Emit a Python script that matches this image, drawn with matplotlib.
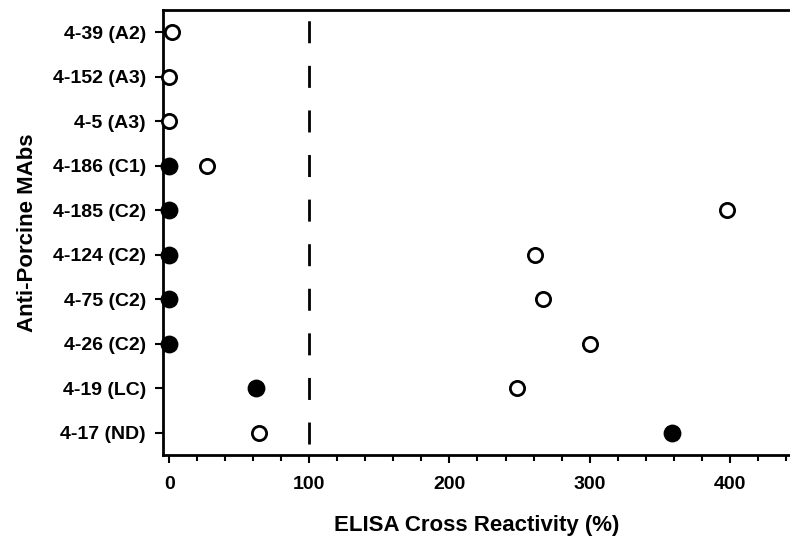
import numpy as np
import matplotlib.pyplot as plt
from matplotlib.ticker import MultipleLocator

plt.rcParams['font.family'] = ['Liberation Sans', 'DejaVu Sans']
plt.rcParams['font.weight'] = 'bold'

mabs = ['4-39 (A2)', '4-152 (A3)', '4-5 (A3)', '4-186 (C1)', '4-185 (C2)',
        '4-124 (C2)', '4-75 (C2)', '4-26 (C2)', '4-19 (LC)', '4-17 (ND)']
# filled circles (None = no point)
filled = [None, None, None, 0, 0, 0, 0, 0, 62, 359]
# open circles
open_pts = [2, 0, 0, 27, 398, 261, 267, 300, 248, 64]
cutoff = 100

fig = plt.figure(figsize=(7.9, 5.38), dpi=100)
ax = fig.add_axes([0.206, 0.154, 0.794, 0.827])

ypos = np.arange(len(mabs))
fy = [y for y, v in zip(ypos, filled) if v is not None]
fx = [v for v in filled if v is not None]

# long dashes centred on each row
ax.axvline(cutoff, color='black', lw=2, linestyle=(12.1, (7.92, 8.13)),
           dash_capstyle='butt', zorder=1)
ax.scatter(fx, fy, s=140, color='black', zorder=3, clip_on=False)
ax.scatter(open_pts, ypos, s=105, facecolor='white', edgecolor='black',
           linewidth=2, zorder=4, clip_on=False)

ax.set_ylim(len(mabs) - 0.5, -0.5)
ax.set_xlim(-4.6, 443)
ax.set_yticks(ypos)
ax.set_yticklabels(mabs, fontsize=14, fontweight='bold')
ax.set_xticks([0, 100, 200, 300, 400])
ax.xaxis.set_minor_locator(MultipleLocator(20))
ax.tick_params(axis='x', labelsize=14, width=1.5, length=6, pad=9)
ax.tick_params(axis='x', which='minor', width=1.5, length=4)
ax.tick_params(axis='y', width=1.5, length=6, pad=6)
for lbl in ax.get_xticklabels():
    lbl.set_fontweight('bold')

for s in ['left', 'top', 'bottom']:
    ax.spines[s].set_linewidth(2)
ax.spines['right'].set_visible(False)

ax.set_xlabel('ELISA Cross Reactivity (%)', fontsize=16, fontweight='bold', labelpad=16)
ax.set_ylabel('Anti-Porcine MAbs', fontsize=16, fontweight='bold', labelpad=11)

fig.savefig('out.png', dpi=100)
